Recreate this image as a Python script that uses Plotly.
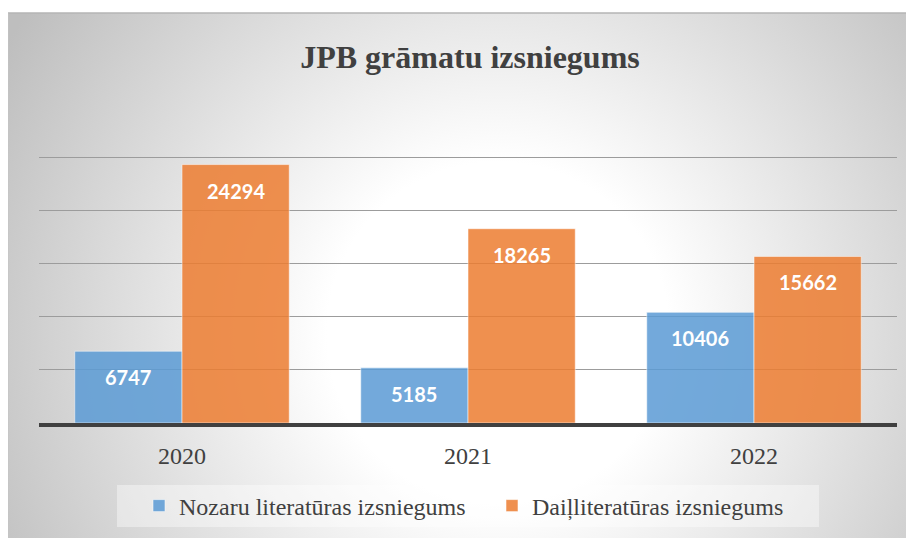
import base64
import plotly.graph_objects as go

# ---- data ----
years = ["2020", "2021", "2022"]
series_names = ["Nozaru literatūras izsniegums", "Daiļliteratūras izsniegums"]
nozaru = [6747, 5185, 10406]
dail = [24294, 18265, 15662]
y_max = 25000
y_step = 5000

# page is rendered with an 8px body margin -> figure origin at page (8, 8)
OFF = 8
W, H = 914 - OFF, 538 - OFF
MT = 13 - OFF
CW, CH = W, H - MT  # chart area size (906 x 525)


def px_x(x):  # page x -> paper fraction
    return (x - OFF) / CW


def px_y(y):  # page y -> paper fraction
    return (538 - y) / CH


blue = "#5B9BD5"
orange = "#ED7D31"
txt = "#404040"
serif = "Liberation Serif, Times New Roman, serif"

# radial gradient background as SVG
svg = f'''<svg xmlns="http://www.w3.org/2000/svg" width="{CW}" height="{CH}" viewBox="0 0 {CW} {CH}">
<defs><radialGradient id="g" gradientUnits="userSpaceOnUse" cx="490" cy="320" r="570">
<stop offset="0" stop-color="#ffffff"/><stop offset="0.3" stop-color="#ffffff"/>
<stop offset="1" stop-color="#bebebe"/></radialGradient></defs>
<rect x="0" y="0" width="{CW}" height="{CH}" fill="url(#g)"/></svg>'''
bg_uri = "data:image/svg+xml;base64," + base64.b64encode(svg.encode()).decode()

fig = go.Figure()
for name, vals, col in [(series_names[0], nozaru, blue), (series_names[1], dail, orange)]:
    fig.add_trace(go.Bar(
        x=years, y=vals, name=name,
        marker=dict(color=col, line=dict(color="rgba(255,255,255,0.55)", width=1)),
        opacity=0.85,
        hoverinfo="x+y+name",
    ))

# data labels (bold white, inside near top)
bar_px = (897 - 39) / 3 * 0.75 / 2
annotations = []
for vals, shift in [(nozaru, -bar_px / 2), (dail, bar_px / 2)]:
    for i, v in enumerate(vals):
        annotations.append(dict(
            x=i, y=v, xref="x", yref="y", text=f"<b>{v}</b>", showarrow=False,
            xshift=shift, yshift=-26, yanchor="middle",
            font=dict(family="Lato, Open Sans, sans-serif", size=20, color="white"),
        ))

fig.update_layout(
    width=W, height=H, autosize=False,
    margin=dict(l=0, r=0, t=MT, b=0, pad=0),
    paper_bgcolor="white",
    plot_bgcolor="rgba(0,0,0,0)",
    barmode="group", bargap=0.25, bargroupgap=0,
    title=dict(text="<b>JPB grāmatu izsniegums</b>", x=(470 - OFF) / W, xanchor="center",
               xref="container", y=1 - (57 - OFF) / H, yanchor="middle", yref="container",
               font=dict(family=serif, size=32, color=txt)),
    xaxis=dict(type="category", categoryorder="array", categoryarray=years,
               range=[-0.5, len(years) - 0.5], autorange=False,
               domain=[px_x(39), px_x(897)], showline=True, linecolor=txt,
               linewidth=4, ticks="", showgrid=False, automargin=False, ticklabelstandoff=8,
               tickfont=dict(family=serif, size=24, color=txt)),
    yaxis=dict(domain=[px_y(423), px_y(156)], range=[0, y_max * 1.004], autorange=False,
               tick0=0, dtick=y_step,
               showticklabels=False, showgrid=True, gridcolor="#9c9c9c", gridwidth=1,
               zeroline=False, automargin=False),
    legend=dict(orientation="h", x=px_x(492), xanchor="center", y=px_y(506), yanchor="middle",
                bgcolor="rgba(0,0,0,0)", entrywidth=308, entrywidthmode="pixels",
                font=dict(family=serif, size=24, color=txt)),
    images=[dict(source=bg_uri, xref="paper", yref="paper", x=0, y=1, sizex=1, sizey=1,
                 sizing="stretch", xanchor="left", yanchor="top", layer="below")],
    shapes=[
        dict(type="rect", xref="paper", yref="paper", x0=px_x(117), x1=px_x(819),
             y0=px_y(527), y1=px_y(485), fillcolor="rgba(255,255,255,0.4)", line=dict(width=0),
             layer="below"),
        dict(type="line", xref="paper", yref="paper", x0=0, x1=1, y0=1, y1=1,
             line=dict(color="#b4b4b4", width=1.5)),
        dict(type="line", xref="paper", yref="paper", x0=0, x1=0, y0=0, y1=1,
             line=dict(color="#c4c4c4", width=1)),
    ],
    annotations=annotations,
    showlegend=True,
)

fig.write_html("out.html")
